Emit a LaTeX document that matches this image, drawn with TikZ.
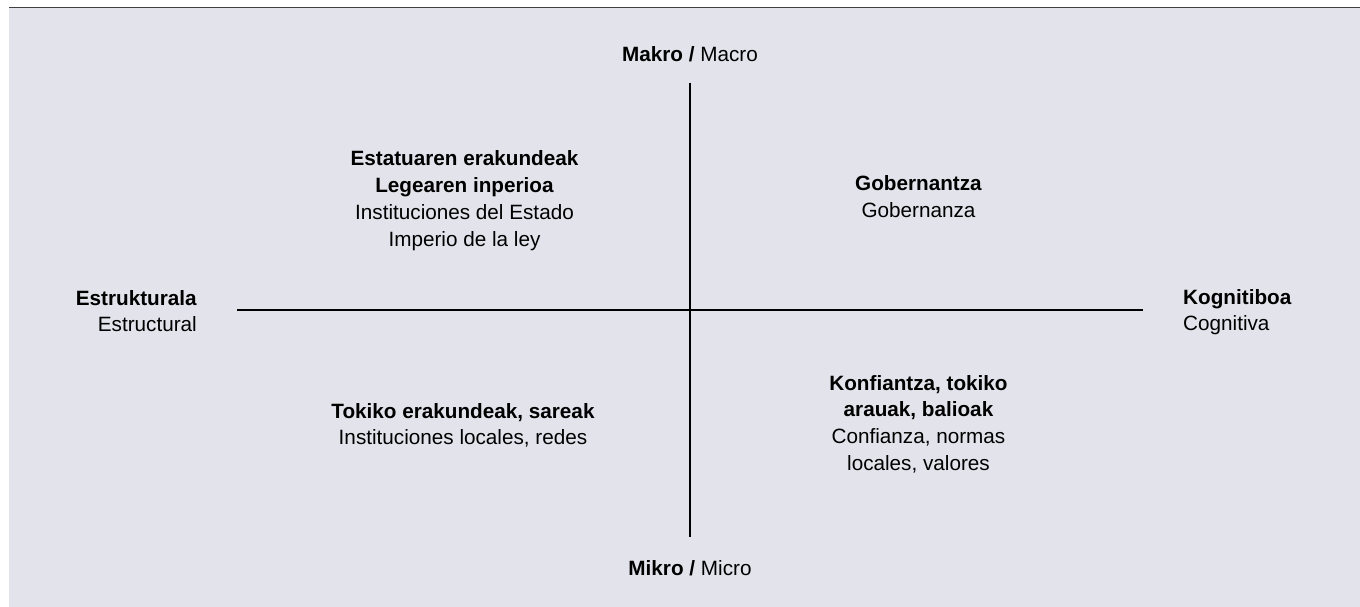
\documentclass[tikz,border=0pt]{standalone}
\usepackage{fontspec}
\setmainfont{Liberation Sans}
\definecolor{bgc}{RGB}{227,227,236}
\definecolor{rulec}{RGB}{64,64,64}
\begin{document}
\begin{tikzpicture}[x=1pt,y=-1pt,
  txt/.style={inner sep=0pt, font=\fontsize{20.7}{26.8}\selectfont, align=center, text=black},
  axisline/.style={line width=2.2pt, black}]
\useasboundingbox (0,0) rectangle (1360,607);
\fill[bgc] (9,8.5) rectangle (1360,607);
\draw[rulec, line width=1.8pt] (9,7.6) -- (1360,7.6);
\coordinate (vtop) at (690,83);
\coordinate (vbot) at (690,537);
\coordinate (hl) at (237,310);
\coordinate (hr) at (1143,310);
\draw[axisline] (vtop) -- (vbot);
\draw[axisline] (hl) -- (hr);
\node[txt, anchor=base] (makro) at (690,62) {\textbf{Makro /} Macro};
\node[txt, anchor=base] (mikro) at (690,575) {\textbf{Mikro /} Micro};
\node[txt, anchor=base east, align=right] (estr) at (197,331.8) {\textbf{Estrukturala}\\Estructural};
\node[txt, anchor=base west, align=left] (kogn) at (1183,330.8) {\textbf{Kognitiboa}\\Cognitiva};
\node[txt, anchor=base] (tl) at (464.5,246) {\textbf{Estatuaren erakundeak}\\\textbf{Legearen inperioa}\\Instituciones del Estado\\Imperio de la ley};
\node[txt, anchor=base] (tr) at (918.5,217) {\textbf{Gobernantza}\\Gobernanza};
\node[txt, anchor=base] (bl) at (463,444.8) {\textbf{Tokiko erakundeak, sareak}\\Instituciones locales, redes};
\node[txt, anchor=base] (br) at (918.5,470.4) {\textbf{Konfiantza, tokiko}\\\textbf{arauak, balioak}\\Confianza, normas\\locales, valores};
\end{tikzpicture}
\end{document}
